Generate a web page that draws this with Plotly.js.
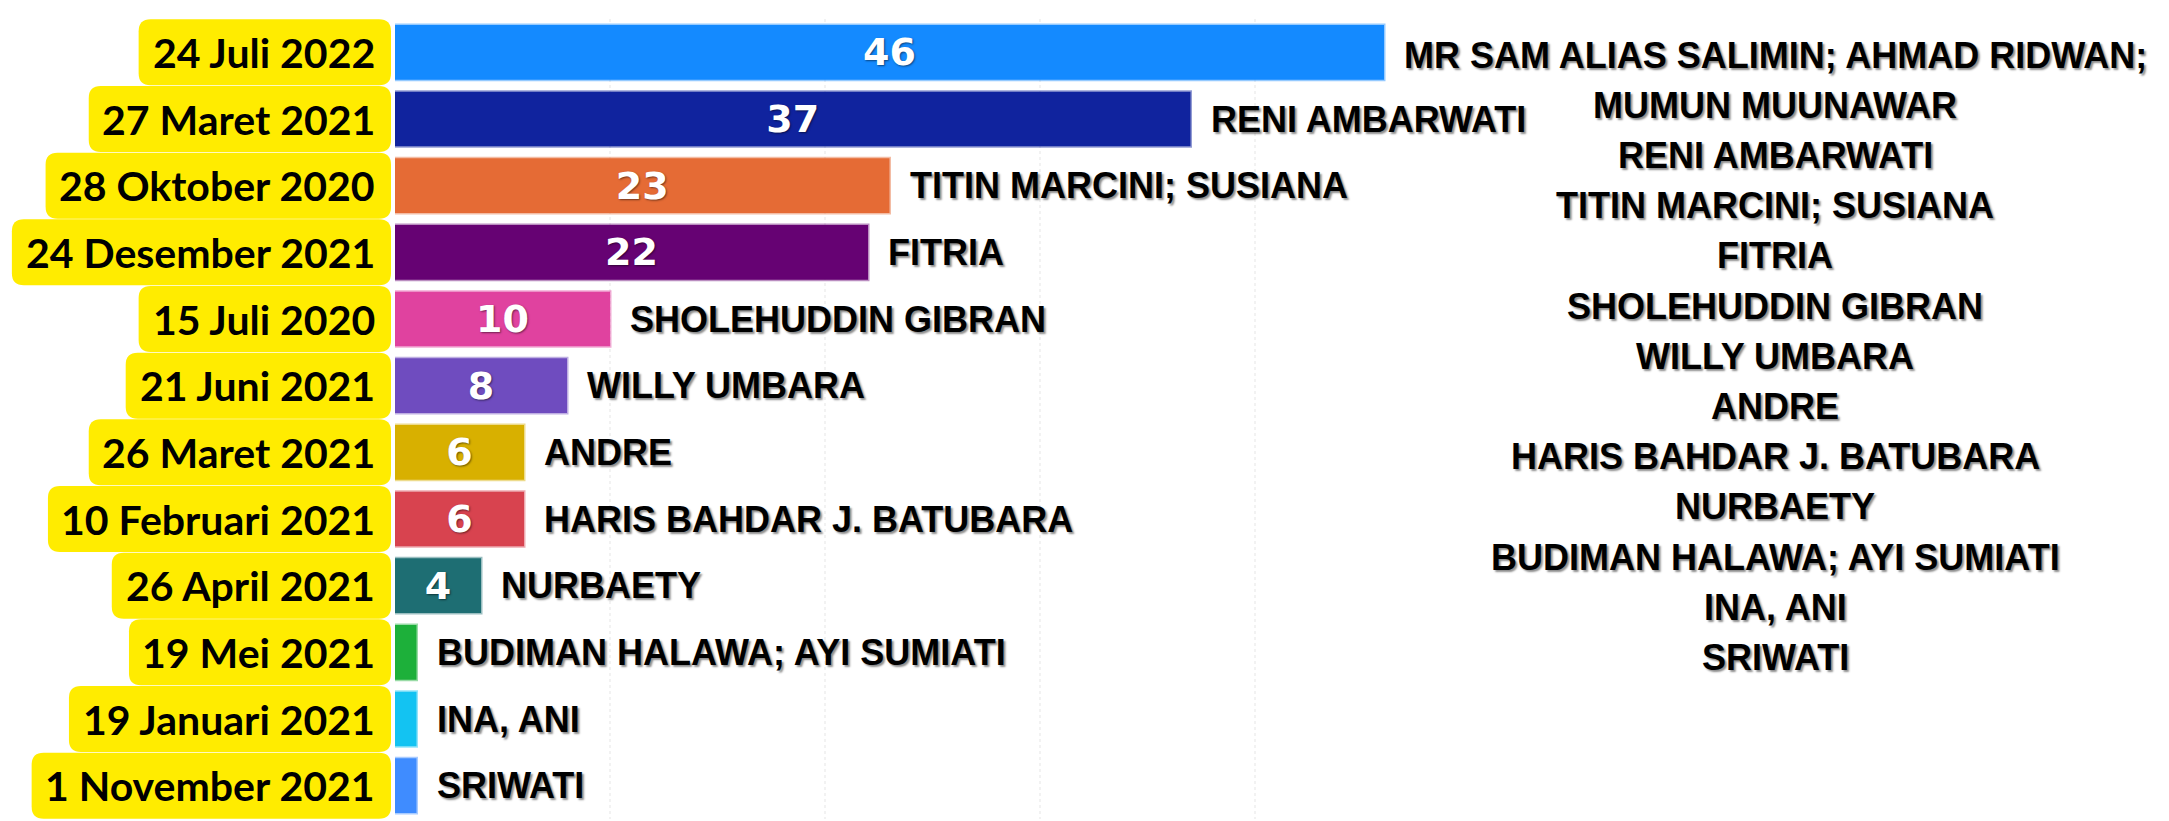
<!DOCTYPE html>
<html><head><meta charset="utf-8">
<script src="https://cdn.plot.ly/plotly-3.0.1.min.js"></script>
<style>html,body{margin:0;padding:0;background:#fff;}#chart{width:2169px;height:821px;}</style>
</head><body><div id="chart"></div>
<script>
// ---- data ----
const dates = ["24 Juli 2022","27 Maret 2021","28 Oktober 2020","24 Desember 2021","15 Juli 2020","21 Juni 2021","26 Maret 2021","10 Februari 2021","26 April 2021","19 Mei 2021","19 Januari 2021","1 November 2021"];
const values = [46,37,23,22,10,8,6,6,4,1,1,1];
const names = ["MR SAM ALIAS SALIMIN; AHMAD RIDWAN;<br>MUMUN MUUNAWAR","RENI AMBARWATI","TITIN MARCINI; SUSIANA","FITRIA","SHOLEHUDDIN GIBRAN","WILLY UMBARA","ANDRE","HARIS BAHDAR J. BATUBARA","NURBAETY","BUDIMAN HALAWA; AYI SUMIATI","INA, ANI","SRIWATI"];
const colors = ["#148AFF","#10239E","#E56B35","#660273","#E0429F","#6F4CBF","#D8B000","#D8434F","#1E6E73","#1DB03A","#13C3F2","#3F8CFF"];
const gridVals = [0,10,20,30,40];

// ---- layout constants ----
const W = 2169, H = 821;
const M = {l:395, r:0, t:19, b:2};
const plotW = W - M.l - M.r, plotH = H - M.t - M.b;
const pxPerUnit = 21.5;
const xMax = plotW / pxPerUnit;
const n = dates.length;

const nameFont = {family:"Liberation Sans, Arial, sans-serif", size:36, color:"#000", weight:700, shadow:"2px 2px 2px rgba(0,0,0,0.45)"};
const dateFont = {family:"Lato, Inter, sans-serif", size:41, color:"#000", weight:700};
const valFont = {family:"DejaVu Sans, Liberation Sans, sans-serif", size:38, color:"#fff", weight:700, shadow:"1px 1px 2px rgba(0,0,0,0.5)"};

function rgba(hex, a){
  const v = parseInt(hex.slice(1),16);
  return `rgba(${(v>>16)&255},${(v>>8)&255},${v&255},${a})`;
}

const canvas = document.createElement('canvas');
const ctx = canvas.getContext('2d');
ctx.font = `700 ${dateFont.size}px Lato`;

const shapes = [];
const annotations = [];
const labelGap = 18, padL = 15, boxRight = -4, halfH = 33, rad = 12;

dates.forEach((d, i) => {
  const w = ctx.measureText(d).width;
  const xl = -(labelGap + w + padL) / plotW, xr = boxRight / plotW;
  const rx = rad / plotW, ry = rad / plotH;
  const yc = 1 - (i + 0.5) / n;
  const yt = yc + halfH / plotH, yb = yc - halfH / plotH;
  shapes.push({
    type:'path', xref:'paper', yref:'paper', layer:'below',
    fillcolor:'#FFEC00', line:{width:0},
    path:`M ${xl+rx},${yt} L ${xr-rx},${yt} Q ${xr},${yt} ${xr},${yt-ry} L ${xr},${yb+ry} Q ${xr},${yb} ${xr-rx},${yb} L ${xl+rx},${yb} Q ${xl},${yb} ${xl},${yb+ry} L ${xl},${yt-ry} Q ${xl},${yt} ${xl+rx},${yt} Z`
  });
  annotations.push({
    xref:'paper', x:0, xanchor:'right', xshift:-labelGap,
    yref:'y', y:d, yanchor:'middle',
    text:d, showarrow:false, font:dateFont
  });
  if (i > 0) {
    annotations.push({
      xref:'x', x:values[i], xanchor:'left', xshift:18,
      yref:'y', y:d, yanchor:'middle',
      text:names[i], showarrow:false, font:nameFont
    });
  }
});

// right-hand list of names
const listLines = names.join('<br>').split('<br>');
const listCenterPx = 1775, listTopPx = 55, listStepPx = 50.2;
listLines.forEach((t, k) => {
  annotations.push({
    xref:'paper', x:(listCenterPx - M.l) / plotW, xanchor:'center',
    yref:'paper', y:1 - (listTopPx + k*listStepPx - M.t) / plotH, yanchor:'middle',
    text:t, showarrow:false, font:nameFont
  });
});

const trace = {
  type:'bar', orientation:'h',
  x: values, y: dates,
  marker:{color: colors, line:{color: colors.map(c => rgba(c,0.45)), width:3}},
  texttemplate:'%{x}', textposition:'inside', insidetextanchor:'middle',
  textangle:0, textfont: valFont, cliponaxis:false,
  hoverinfo:'none'
};

const layout = {
  width:W, height:H,
  margin:M,
  paper_bgcolor:'#fff', plot_bgcolor:'#fff',
  showlegend:false,
  bargap:0.18,
  uniformtext:{mode:'hide', minsize:36},
  xaxis:{range:[0,xMax], tickvals:gridVals, showticklabels:false, showgrid:true,
         gridcolor:'#f2f2f2', gridwidth:2, griddash:'dot', zeroline:false, showline:false, fixedrange:true},
  yaxis:{type:'category', categoryorder:'array', categoryarray:dates, range:[n-0.5,-0.5],
         showticklabels:false, showgrid:false, zeroline:false, showline:false, fixedrange:true},
  shapes: shapes,
  annotations: annotations
};

Plotly.newPlot('chart', [trace], layout, {displayModeBar:false, staticPlot:true});
</script>
</body></html>
